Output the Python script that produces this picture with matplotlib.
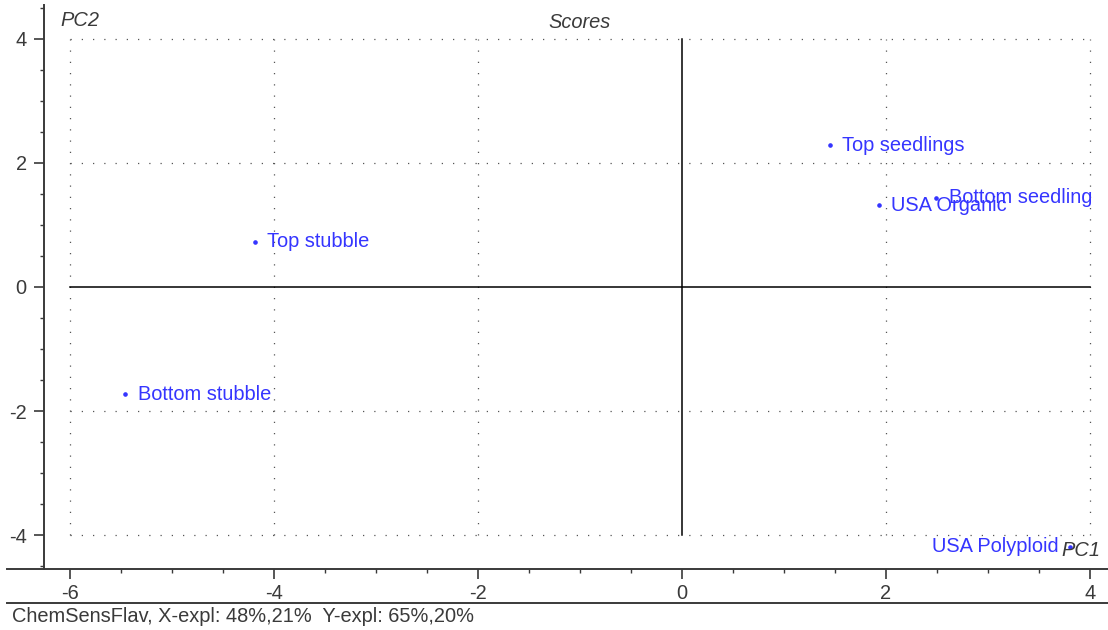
import matplotlib
matplotlib.use("Agg")
import matplotlib.pyplot as plt
from matplotlib.lines import Line2D

plt.rcParams['font.family'] = ['Liberation Sans', 'DejaVu Sans']
plt.rcParams['axes.unicode_minus'] = False

# PCA scores, PC1 vs PC2
samples = ["Top seedlings", "USA Organic", "Bottom seedling", "Top stubble",
           "Bottom stubble", "USA Polyploid"]
pc1 = [1.45, 1.93, 2.49, -4.19, -5.46, 3.80]
pc2 = [2.29, 1.32, 1.44, 0.73, -1.73, -4.19]
label_side = ["right", "right", "right", "right", "right", "left"]

grid_ticks = [-6, -4, -2, 2, 4]
grid_ticks_y = [-4, -2, 2, 4]
caption = "ChemSensFlav, X-expl: 48%,21%  Y-expl: 65%,20%"

W, H = 1108, 630
fig = plt.figure(figsize=(W / 100, H / 100), dpi=100)
ax = fig.add_axes([7 / W, (H - 569) / H, (W - 7) / W, (569 - 5) / H])

ax.set_xlim(-6.618, 4.176)
ax.set_ylim(-4.548, 4.548)

ink = "#3a3a3a"
for s in ["top", "right"]:
    ax.spines[s].set_visible(False)
ax.spines["left"].set_position(("data", -6.255))
for s in ["left", "bottom"]:
    ax.spines[s].set_color(ink)
    ax.spines[s].set_linewidth(1.4)

ax.set_xticks([-6, -4, -2, 0, 2, 4])
ax.set_xticks([x / 2 for x in range(-12, 9)], minor=True)
ax.set_yticks([-4, -2, 0, 2, 4])
ax.set_yticks([y / 2 for y in range(-9, 10)], minor=True)
ax.tick_params(which="major", length=7.5, width=1.2, color=ink, labelcolor=ink,
               labelsize=14.4)
ax.tick_params(which="minor", length=3.2, width=1.0, color=ink)
ax.tick_params(axis="x", which="major", pad=3)
ax.tick_params(axis="y", which="major", pad=5)

# dotted grid only inside the score range
dots = dict(color="#555555", lw=0.9, linestyle=(0, (1, 8)))
ax.vlines(grid_ticks, -4, 4, **dots)
ax.hlines(grid_ticks_y, -6, 4, **dots)

# origin cross
ax.plot([0, 0], [-4, 4], color="black", lw=1.1)
ax.plot([-6, 4], [0, 0], color="black", lw=1.1)

blue = "#3535ff"
ax.plot(pc1, pc2, "o", color=blue, ms=2.3, ls="none")
for name, x, y, side in zip(samples, pc1, pc2, label_side):
    if side == "right":
        ax.annotate(name, (x, y), xytext=(9, 0), textcoords="offset points",
                    ha="left", va="center", color=blue, fontsize=14.4)
    else:
        ax.annotate(name, (x, y), xytext=(-8, 0), textcoords="offset points",
                    ha="right", va="center", color=blue, fontsize=14.4)

ax.text(60 / W, 1 - 20 / H, "PC2", transform=fig.transFigure, fontstyle="italic",
        color=ink, fontsize=14.4, ha="left", va="center")
ax.text(580 / W, 1 - 22 / H, "Scores", transform=fig.transFigure, fontstyle="italic",
        color=ink, fontsize=14.4, ha="center", va="center")
ax.text(1100 / W, 1 - 551 / H, "PC1", transform=fig.transFigure, fontstyle="italic",
        color=ink, fontsize=14.4, ha="right", va="center", zorder=5)

fig.add_artist(Line2D([7 / W, 1], [1 - 603 / H, 1 - 603 / H], color=ink, lw=1.4))
fig.text(12 / W, 1 - 622 / H, caption, color=ink, fontsize=14.4, ha="left",
         va="baseline")

fig.savefig("out.png", dpi=100)
